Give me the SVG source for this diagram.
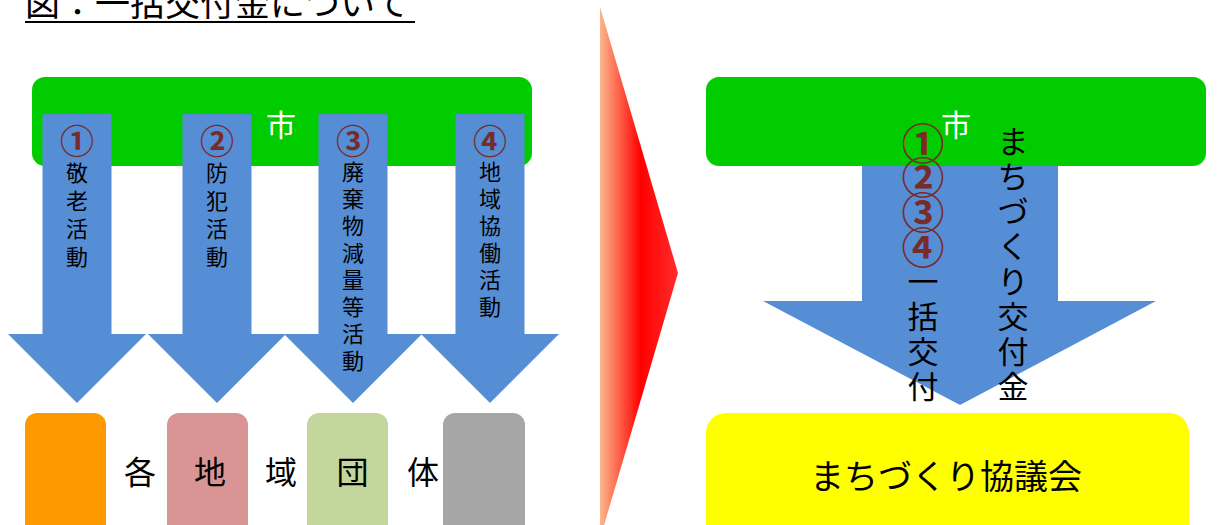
<svg xmlns="http://www.w3.org/2000/svg" width="1219" height="525" viewBox="0 0 1219 525">
<style>
text{font-family:"Noto Sans CJK JP","Noto Sans CJK SC",sans-serif;}
.arrow{fill:#558ed5;}
.num{fill:#772c2a;font-weight:bold;text-anchor:middle;}
.v{fill:#000;text-anchor:middle;}
.lbl{fill:#000;text-anchor:middle;font-size:32px;}
</style>
<defs>
<linearGradient id="redg" x1="600" y1="0" x2="678" y2="0" gradientUnits="userSpaceOnUse">
<stop offset="0" stop-color="#fbb68c"/>
<stop offset="0.52" stop-color="#ff0000"/>
<stop offset="1" stop-color="#ff2d2d"/>
</linearGradient>
</defs>
<g id="title">
<text x="25" y="15.5" font-size="35" fill="#000">図：一括交付金について</text>
<rect x="25" y="21" width="390" height="2" fill="#000"/>
</g>
<g id="city-left">
<rect x="32" y="77" width="500" height="89" rx="13" fill="#00cc00"/>
<text x="281" y="136" font-size="30" fill="#fff" text-anchor="middle">市</text>
</g>
<g id="connectors">
<path class="arrow" d="M42.5,114 H111.5 V334 H146 L77,403 L8,334 H42.5 Z"/>
<path class="arrow" d="M182.5,114 H251.5 V334 H286 L217,403 L148,334 H182.5 Z"/>
<path class="arrow" d="M318.5,114 H387.5 V334 H422 L353,403 L284,334 H318.5 Z"/>
<path class="arrow" d="M455.5,114 H524.5 V334 H559 L490,403 L421,334 H455.5 Z"/>
<path class="arrow" d="M862,150 H1058 V301 H1156 L960,405 L763,301 H862 Z"/>
<polygon points="600,7 678,273 600,539" fill="url(#redg)"/>
</g>
<g id="arrow-labels-left" font-size="22">
<text class="num" x="77" y="154" font-size="34">①</text>
<text class="v" x="77" y="181">敬</text>
<text class="v" x="77" y="209">老</text>
<text class="v" x="77" y="237">活</text>
<text class="v" x="77" y="265">動</text>
<text class="num" x="217" y="154" font-size="34">②</text>
<text class="v" x="217" y="181">防</text>
<text class="v" x="217" y="209">犯</text>
<text class="v" x="217" y="237">活</text>
<text class="v" x="217" y="265">動</text>
<text class="num" x="353" y="154" font-size="34">③</text>
<text class="v" x="353" y="180">廃</text>
<text class="v" x="353" y="207">棄</text>
<text class="v" x="353" y="234">物</text>
<text class="v" x="353" y="261">減</text>
<text class="v" x="353" y="288">量</text>
<text class="v" x="353" y="315">等</text>
<text class="v" x="353" y="342">活</text>
<text class="v" x="353" y="369">動</text>
<text class="num" x="490" y="154" font-size="34">④</text>
<text class="v" x="490" y="180">地</text>
<text class="v" x="490" y="207">域</text>
<text class="v" x="490" y="234">協</text>
<text class="v" x="490" y="261">働</text>
<text class="v" x="490" y="288">活</text>
<text class="v" x="490" y="315">動</text>
</g>
<g id="groups">
<rect x="25" y="413" width="81" height="130" rx="12" fill="#ff9900"/>
<rect x="167" y="413" width="81" height="130" rx="12" fill="#d99594"/>
<rect x="307" y="413" width="81" height="130" rx="12" fill="#c3d69b"/>
<rect x="443" y="413" width="82" height="130" rx="12" fill="#a6a6a6"/>
<text class="lbl" x="140" y="484">各</text>
<text class="lbl" x="210" y="484">地</text>
<text class="lbl" x="281" y="484">域</text>
<text class="lbl" x="352.5" y="484">団</text>
<text class="lbl" x="423" y="484">体</text>
</g>
<g id="city-right">
<rect x="706" y="77" width="500" height="89" rx="13" fill="#00cc00"/>
<text x="956" y="136" font-size="30" fill="#fff" text-anchor="middle">市</text>
</g>
<g id="arrow-labels-right" font-size="31">
<text class="num" x="923" y="160" font-size="43">①</text>
<text class="num" x="923" y="194" font-size="43">②</text>
<text class="num" x="923" y="229" font-size="43">③</text>
<text class="num" x="923" y="264" font-size="43">④</text>
<text class="v" x="923" y="293">一</text>
<text class="v" x="923" y="328">括</text>
<text class="v" x="923" y="363">交</text>
<text class="v" x="923" y="398">付</text>
<text class="v" x="1013" y="153">ま</text>
<text class="v" x="1013" y="188">ち</text>
<text class="v" x="1013" y="223">づ</text>
<text class="v" x="1013" y="258">く</text>
<text class="v" x="1013" y="293">り</text>
<text class="v" x="1013" y="328">交</text>
<text class="v" x="1013" y="363">付</text>
<text class="v" x="1013" y="398">金</text>
</g>
<g id="council">
<rect x="706" y="413" width="483" height="130" rx="20" fill="#ffff00"/>
<text x="946" y="489" font-size="34" fill="#000" text-anchor="middle">まちづくり協議会</text>
</g>
</svg>
